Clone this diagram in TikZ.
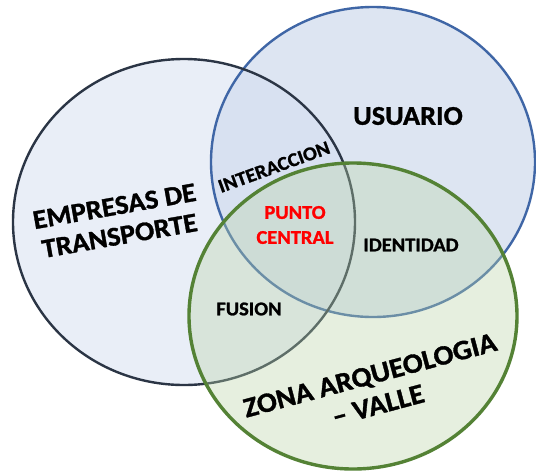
\documentclass[tikz,border=0pt]{standalone}
\usepackage{fontspec}
\setmainfont{Carlito}[FakeStretch=1.05, BoldFeatures={FakeBold=1.2}]
\definecolor{lfill}{HTML}{D5DFF1}
\definecolor{tfill}{HTML}{BDCDE7}
\definecolor{bfill}{HTML}{BAD5A8}
\definecolor{ldraw}{HTML}{2B3545}
\definecolor{tdraw}{HTML}{3F66A6}
\definecolor{bdraw}{HTML}{548235}
\definecolor{redtxt}{HTML}{FF0000}
\begin{document}
\begin{tikzpicture}[x=1pt,y=-1pt,
  bigtxt/.style={font=\bfseries\fontsize{27}{30}\selectfont, align=center, inner sep=0pt},
  smalltxt/.style={font=\bfseries\fontsize{19.5}{25}\selectfont, align=center, inner sep=0pt}]
\useasboundingbox (0,0) rectangle (536,472);
\fill[white] (0,0) rectangle (536,472);
% fills of the two upper sets
\fill[tfill, fill opacity=0.5] (373,162) ellipse [x radius=162pt, y radius=155pt];
\fill[lfill, fill opacity=0.5] (184,222) ellipse [x radius=171pt, y radius=163pt];
% outlines of the two upper sets
\draw[tdraw, line width=2.4pt] (373,162) ellipse [x radius=162pt, y radius=155pt];
\draw[ldraw, line width=2.4pt] (184,222) ellipse [x radius=171pt, y radius=163pt];
% lower set
\draw[fill=bfill, fill opacity=0.36, draw opacity=1, draw=bdraw, line width=3.4pt] (353,316) ellipse [x radius=164pt, y radius=153pt];
\node[bigtxt, rotate=10] (empresas) at (117,221) {EMPRESAS DE\\TRANSPORTE};
\node[bigtxt] (usuario) at (408,116) {USUARIO};
\node[smalltxt, rotate=20] (interaccion) at (274,167) {INTERACCION};
\node[smalltxt, text=redtxt] (punto) at (295,225) {PUNTO\\CENTRAL};
\node[smalltxt] (identidad) at (411,245) {IDENTIDAD};
\node[smalltxt] (fusion) at (249,309) {FUSION};
\node[bigtxt, font=\bfseries\fontsize{28}{31}\selectfont, rotate=15] (zona) at (374,390) {ZONA ARQUEOLOGIA\\– VALLE};
\end{tikzpicture}
\end{document}
